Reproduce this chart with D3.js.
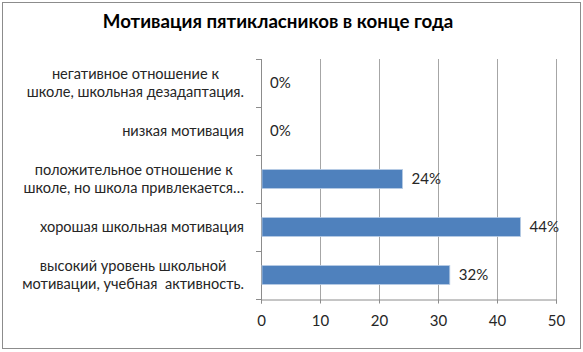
<!DOCTYPE html>
<html>
<head>
<meta charset="utf-8">
<script src="https://cdn.jsdelivr.net/npm/d3@7"></script>
<style>
  body { margin: 0; background: #fff; }
  svg { display: block; }
  text { white-space: pre; }
</style>
</head>
<body>
<div id="chart"></div>
<script>
// data, top to bottom as drawn
let categories = [
    ['негативное отношение к', 'школе, школьная дезадаптация.'],
    ['низкая мотивация'],
    ['положительное отношение к', 'школе, но школа привлекается…'],
    ['хорошая школьная мотивация'],
    ['высокий уровень школьной', 'мотивации, учебная  активность.']
];
let values = [0, 0, 24, 44, 32];
let ticks = [0, 10, 20, 30, 40, 50];
let title = 'Мотивация пятикласников в конце года';

let chart_width = 583;
let chart_height = 352;
let plot = { left: 261, right: 556, top: 59, bottom: 299 };
let font = 'Lato, Open Sans, sans-serif';

let svg = d3.select('#chart')
    .append('svg')
    .attr('width', chart_width)
    .attr('height', chart_height);

// outer frame
svg.append('rect')
    .attr('x', 2.5).attr('y', 2.5)
    .attr('width', 578).attr('height', 346)
    .attr('fill', '#fff')
    .attr('stroke', '#8c8c8c');

svg.append('text')
    .text(title)
    .attr('x', 278)
    .attr('y', 28)
    .attr('text-anchor', 'middle')
    .attr('font-family', font)
    .attr('font-weight', 'bold')
    .attr('font-size', 18.7)
    .attr('fill', '#000');

let x_scale = d3.scaleLinear()
    .domain([0, 50])
    .range([plot.left, plot.right]);

let y_scale = d3.scaleBand()
    .domain(d3.range(values.length))
    .range([plot.top, plot.bottom]);

let bar_h = 19;

// gridlines
svg.selectAll('.grid')
    .data(ticks.slice(1))
    .enter()
    .append('line')
    .attr('x1', d => Math.round(x_scale(d)) + 0.5)
    .attr('x2', d => Math.round(x_scale(d)) + 0.5)
    .attr('y1', plot.top)
    .attr('y2', plot.bottom + 4)
    .attr('stroke', '#a6a6a6');

// x axis
let x_axis = d3.axisBottom(x_scale)
    .tickValues(ticks)
    .tickSize(4)
    .tickPadding(12);

let gx = svg.append('g')
    .attr('transform', 'translate(0,' + (plot.bottom + 0.5) + ')')
    .call(x_axis);
gx.select('.domain').attr('stroke', '#8c8c8c');
gx.selectAll('.tick line').attr('stroke', '#8c8c8c');
gx.selectAll('.tick text')
    .attr('font-family', font)
    .attr('font-size', 15)
    .attr('fill', '#262626');

// y axis (category), ticks at band boundaries
svg.append('line')
    .attr('x1', plot.left + 0.5).attr('x2', plot.left + 0.5)
    .attr('y1', plot.top).attr('y2', plot.bottom + 4)
    .attr('stroke', '#8c8c8c');
svg.selectAll('.ytick')
    .data(d3.range(values.length + 1))
    .enter()
    .append('line')
    .attr('x1', plot.left - 5)
    .attr('x2', plot.left)
    .attr('y1', i => Math.round(plot.top + i * y_scale.step()) + 0.5)
    .attr('y2', i => Math.round(plot.top + i * y_scale.step()) + 0.5)
    .attr('stroke', '#8c8c8c');

// bars
svg.selectAll('.bar')
    .data(values)
    .enter()
    .append('rect')
    .attr('x', x_scale(0) + 1)
    .attr('y', (d, i) => y_scale(i) + y_scale.bandwidth() / 2 - bar_h / 2)
    .attr('width', d => Math.max(0, x_scale(d) - x_scale(0) - 1))
    .attr('height', bar_h)
    .attr('fill', '#4f81bd')
    .attr('stroke', d => d > 0 ? '#b9cde5' : 'none')
    .attr('stroke-width', 0.8);

// value labels
svg.selectAll('.val')
    .data(values)
    .enter()
    .append('text')
    .text(d => d + '%')
    .attr('x', d => x_scale(d) + 9)
    .attr('y', (d, i) => y_scale(i) + y_scale.bandwidth() / 2 + 5)
    .attr('font-family', font)
    .attr('font-size', 15)
    .attr('fill', '#262626');

// category labels: block right-aligned, lines centered inside it
let label_right = 244;
let line_h = 18;
categories.forEach(function(lines, i) {
    let g = svg.append('g');
    let texts = lines.map(function(s, j) {
        return g.append('text')
            .text(s)
            .attr('y', y_scale(i) + y_scale.bandwidth() / 2 + 4.5 + (j - (lines.length - 1) / 2) * line_h)
            .attr('text-anchor', 'middle')
            .attr('font-family', font)
            .attr('font-size', 14.6)
            .attr('fill', '#262626');
    });
    let w = d3.max(texts, t => t.node().getComputedTextLength());
    texts.forEach(t => t.attr('x', label_right - w / 2));
});
</script>
</body>
</html>
